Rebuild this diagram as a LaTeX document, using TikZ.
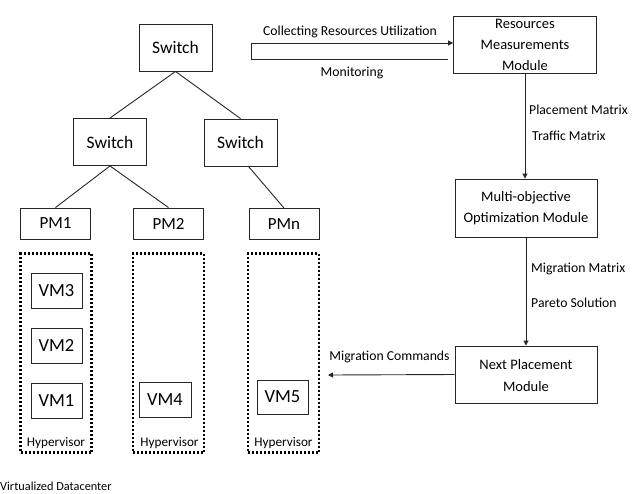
\documentclass[tikz,border=0pt]{standalone}
\usepackage{fontspec}
\setmainfont{Carlito}
\usetikzlibrary{arrows.meta,calc}
\begin{document}
\begin{tikzpicture}[x=1pt,y=-1pt,
  line/.style={draw=black!85, line width=0.9pt},
  arr/.style={line, -{Triangle[length=5pt,width=5pt]}},
  box/.style={draw=black!85, line width=0.9pt, inner sep=0pt, align=center, text=black},
  sw/.style={box, minimum width=73pt, minimum height=47pt, font=\fontsize{17.5}{21}\selectfont},
  pm/.style={box, minimum width=70pt, minimum height=31pt, font=\fontsize{17}{20}\selectfont},
  vm/.style={box, minimum width=51pt, minimum height=35pt, font=\fontsize{18.5}{22}\selectfont},
  hyp/.style={draw=black, line width=2.2pt, dash pattern=on 2pt off 2pt, minimum width=71pt, minimum height=199pt, inner sep=0pt},
  hyplbl/.style={inner sep=0pt, text=black, font=\fontsize{13.2}{16}\selectfont},
  modbox/.style={draw=black!85, line width=0.9pt, inner sep=0pt, minimum width=143pt, minimum height=57pt},
  modtxt/.style={inner sep=0pt, align=center, text=black, font=\fontsize{14.5}{21}\selectfont},
  lbl/.style={inner sep=0pt, text=black, font=\fontsize{13.7}{16}\selectfont}
]
\useasboundingbox (0,0) rectangle (639,493);

% tree
\node[sw] (sw0) at (175.5,47.5) {Switch};
\node[sw] (sw1) at (110,142) {Switch};
\node[sw] (sw2) at (240.5,142.5) {Switch};
\node[pm] (pm1) at (55.5,223.5) {PM1};
\node[pm] (pm2) at (168.5,223.5) {PM2};
\node[pm] (pmn) at (284,224) {PMn};
\draw[line] (sw0.south) -- (sw1.north);
\draw[line] (sw0.south) -- (sw2.north);
\draw[line] (sw1.south) -- (pm1.north);
\draw[line] (sw1.south) -- (pm2.north);
\draw[line] ($(sw2.south)+(8,0)$) -- (pmn.north);

% hypervisors
\node[hyp] (h1) at (56,353) {};
\node[hyp] (h2) at (168.5,353) {};
\node[hyp] (h3) at (283.5,353) {};
\node[hyplbl] (hl1) at (56,443) {Hypervisor};
\node[hyplbl] (hl2) at (169.5,443) {Hypervisor};
\node[hyplbl] (hl3) at (283.5,443) {Hypervisor};
\node[vm] (vm3) at (56.5,290.5) {VM3};
\node[vm] (vm2) at (56.5,345.5) {VM2};
\node[vm] (vm1) at (56.5,400.5) {VM1};
\node[vm, minimum width=52pt] (vm4) at (165,400) {VM4};
\node[vm, minimum height=34pt] (vm5) at (282.5,397) {VM5};

\node[inner sep=0pt, anchor=west, text=black, font=\fontsize{12.3}{15}\selectfont] (vdc) at (0,486) {Virtualized Datacenter};

% modules
\node[modbox] (rmm) at (525,44.5) {};
\node[modtxt] (rmmt) at (525,45) {Resources\\Measurements\\Module};
\node[modbox, minimum width=142pt, minimum height=58pt] (mom) at (526,208) {};
\node[modtxt] (momt) at (526,208.5) {Multi-objective\\Optimization Module};
\node[modbox, minimum width=142pt] (npm) at (526,374.5) {};
\node[modtxt, font=\fontsize{14.5}{22}\selectfont] (npmt) at (526,376) {Next Placement\\Module};

\draw[arr] (rmm.south) -- (rmm.south |- mom.north);
\draw[arr] (mom.south) -- (npm.north);
\node[lbl, anchor=west] (l1) at (529,110) {Placement Matrix};
\node[lbl, anchor=west] (l2) at (532,136) {Traffic Matrix};
\node[lbl, anchor=west] (l3) at (531,269) {Migration Matrix};
\node[lbl, anchor=west] (l4) at (531,303) {Pareto Solution};

% migration commands
\coordinate (mcend) at (328,375);
\draw[arr] (npm.west) -- (mcend);
\node[lbl] (mcl) at (389.5,357) {Migration Commands};

% monitoring loop
\coordinate (mtop) at (251,43);
\coordinate (mbot) at (251,59);
\coordinate (mbotend) at (448,59);
\draw[arr] (mbotend) -- (mbot) -- (mtop) -- (rmm.west |- mtop);
\node[lbl] (cru) at (350,32) {Collecting Resources Utilization};
\node[lbl] (mon) at (352,73) {Monitoring};
\end{tikzpicture}
\end{document}
